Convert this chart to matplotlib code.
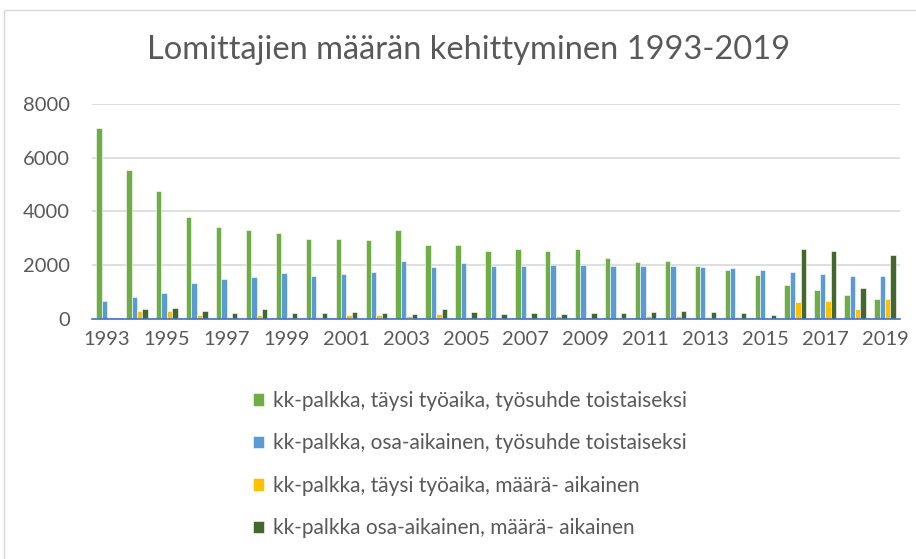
import numpy as np
import matplotlib
matplotlib.use('Agg')
import matplotlib.pyplot as plt
from matplotlib.patches import Rectangle

plt.rcParams['font.family'] = ['Lato', 'DejaVu Sans']

# Vuodet ja sarjat (luettu kuvasta)
vuodet = list(range(1993, 2020))
taysi_toistaiseksi = [7100, 5550, 4750, 3780, 3400, 3290, 3190, 2980, 2980, 2940, 3300, 2760, 2760,
                      2540, 2610, 2540, 2590, 2260, 2120, 2140, 1980, 1820, 1640, 1270, 1080, 900, 720]
osa_toistaiseksi = [660, 810, 960, 1320, 1490, 1560, 1700, 1600, 1660, 1740, 2160, 1920, 2070,
                    1980, 1980, 1990, 1990, 1980, 1980, 1970, 1920, 1890, 1820, 1730, 1660, 1600, 1600]
taysi_maaraaik = [0, 290, 280, 130, 75, 130, 75, 75, 130, 130, 100, 160, 75,
                  40, 75, 100, 50, 80, 85, 85, 60, 60, 0, 630, 660, 370, 740]
osa_maaraaik = [0, 370, 400, 270, 220, 370, 200, 200, 260, 220, 190, 370, 250,
                190, 220, 190, 200, 200, 250, 290, 250, 200, 140, 2590, 2520, 1130, 2380]

sarjat = [
    ('kk-palkka, täysi työaika, työsuhde toistaiseksi', taysi_toistaiseksi, '#70AD47'),
    ('kk-palkka, osa-aikainen, työsuhde toistaiseksi', osa_toistaiseksi, '#5B9BD5'),
    ('kk-palkka, täysi työaika, määrä- aikainen', taysi_maaraaik, '#FFC000'),
    ('kk-palkka osa-aikainen, määrä- aikainen', osa_maaraaik, '#43682B'),
]

fig = plt.figure(figsize=(9.16, 5.59), dpi=100)
ax = fig.add_axes([92 / 916, 1 - 318.7 / 559, 808 / 916, 214.7 / 559])

x = np.arange(len(vuodet))
leveys = 0.18
for i, (nimi, arvot, vari) in enumerate(sarjat):
    ax.bar(x + (i - 1.5) * leveys, arvot, leveys, color=vari, label=nimi,
           edgecolor='white', linewidth=0.4, zorder=3)

ax.set_xlim(-0.5, len(vuodet) - 0.5)
ax.set_ylim(0, 8000)
ax.set_yticks(range(0, 8001, 2000))
ax.yaxis.grid(True, color='#D9D9D9', linewidth=1.2, zorder=0)
ax.set_xticks(x[::2])
ax.set_xticklabels([str(v) for v in vuodet[::2]])
ax.tick_params(axis='both', length=0, labelsize=14.5, colors='#595959', pad=9)
ax.tick_params(axis='y', pad=16)
for s in ['top', 'right', 'left']:
    ax.spines[s].set_visible(False)
ax.spines['bottom'].set_color('#4472C4')
ax.spines['bottom'].set_linewidth(1.2)
ax.spines['bottom'].set_zorder(4)

fig.text(469 / 916, 1 - 50 / 559, 'Lomittajien määrän kehittyminen 1993-2019',
         ha='center', va='center', fontsize=23.5, color='#595959')

handles, labels = ax.get_legend_handles_labels()
leg = fig.legend(handles, labels, loc='upper left', bbox_to_anchor=(234 / 916, 1 - 372 / 559),
                 frameon=False, fontsize=15, labelcolor='#595959', handlelength=0.55,
                 handleheight=0.55, handletextpad=0.4, labelspacing=1.08)

fig.patches.append(Rectangle((4 / 916, -0.05), 1.2, 1 - 10 / 559 + 0.05, transform=fig.transFigure,
                             fill=False, edgecolor='#D9D9D9', linewidth=1))

fig.savefig('out.png', dpi=100)
